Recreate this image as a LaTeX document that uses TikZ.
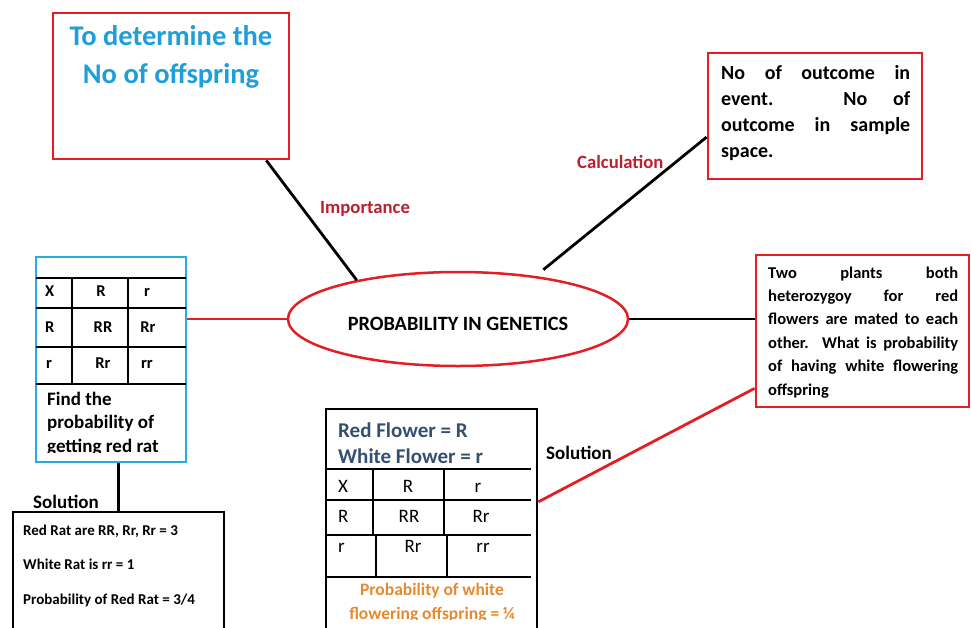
\documentclass[tikz,border=0pt]{standalone}
\usepackage{fontspec}
\setmainfont{Carlito}
\usetikzlibrary{shapes.geometric}

\definecolor{boxred}{HTML}{E31E24}
\definecolor{labelred}{HTML}{BE1E2D}
\definecolor{skyblue}{HTML}{29ABE2}
\definecolor{headblue}{HTML}{1E9FDB}
\definecolor{slate}{HTML}{35506E}
\definecolor{orangetxt}{HTML}{E68A2E}

% font size / baseline skip in one go
\newcommand\fs[2]{\fontsize{#1}{#2}\selectfont}
% a justified line of a given width
\newcommand\jline[2]{\hbox{\makebox[#1][s]{#2}}}

\tikzset{
  frame/.style={draw, rectangle, line width=2.8pt, inner sep=0pt},
  redframe/.style={frame, draw=boxred},
  blueframe/.style={frame, draw=skyblue},
  blackframe/.style={frame, draw=black},
  conn/.style={draw=black, line width=2.8pt},
  redconn/.style={draw=boxred, line width=2.8pt},
  txt/.style={inner sep=0pt, anchor=base west},
  ctxt/.style={inner sep=0pt, anchor=base},
  label/.style={txt, text=labelred, font=\fs{18.7}{22}\bfseries},
  cell/.style={font=\fs{16.5}{20}\bfseries},
  mcell/.style={font=\fs{19}{23}\mdseries},
  thin grid/.style={line width=1.2pt},
  thick grid/.style={line width=2.2pt},
}

\begin{document}
\begin{tikzpicture}[x=1pt,y=-1pt]
\useasboundingbox (0,0) rectangle (971,627);
\fill[white] (0,0) rectangle (971,627);
\clip (0,0) rectangle (971,627);

% ---- frames ----
\node[redframe, minimum width=236pt, minimum height=146pt] (tl) at (171,86) {};
\node[redframe, minimum width=214pt, minimum height=126pt] (tr) at (815,116) {};
\node[redframe, minimum width=213pt, minimum height=152pt] (rb) at (862.5,331) {};
\node[blueframe, minimum width=150pt, minimum height=205pt] (lb) at (111,359.5) {};
\node[blackframe, minimum width=211pt, minimum height=148pt] (sol) at (118.5,586) {};
\node[blackframe, minimum width=211pt, minimum height=251pt] (mid) at (431.5,534.5) {};

% ---- central topic ----
\node[ellipse, draw=boxred, line width=2.5pt, minimum width=340pt, minimum height=94pt,
      inner sep=0pt, text height=22pt, text depth=0pt, font=\fs{20.3}{24}\bfseries]
      (pg) at (458,319) {PROBABILITY IN GENETICS};

% ---- connectors ----
\draw[conn] (tl.-38) -- (pg.159);
\draw[conn, shorten >=10pt] (tr.191) -- (pg.29);
\draw[conn] (pg.east) -- (pg.east -| rb.west);
\draw[redconn] (pg.west) -- (pg.west -| lb.east);
\draw[redconn] (rb.208) -- (mid.17);
\draw[conn] (sol.north) -- (sol.north |- lb.south);

% ---- connector labels ----
\node[label] (imp) at (320,213) {Importance};
\node[label] (calc) at (577,168) {Calculation};
\node[txt, font=\fs{19}{23}\bfseries] (solA) at (33,508) {Solution};
\node[txt, font=\fs{19}{23}\bfseries] (solB) at (546,459) {Solution};

% ---- top left box ----
\node[ctxt, text=headblue, font=\fs{28.5}{34}\bfseries] (tlA) at (171,45) {To determine the};
\node[ctxt, text=headblue, font=\fs{28.5}{34}\bfseries] (tlB) at (171,83) {No of offspring};

% ---- top right box ----
\node[txt, font=\fs{20}{26.3}\bfseries] (trT) at (721,79)
  {\vtop{\jline{189pt}{No of outcome in}\jline{189pt}{event. No of}%
         \jline{189pt}{outcome in sample}\hbox{space.}}};

% ---- right box ----
\node[txt, font=\fs{16.5}{23.4}\bfseries] (rbT) at (768,278)
  {\vtop{\jline{190pt}{Two plants both}\jline{190pt}{heterozygoy for red}%
         \jline{190pt}{flowers are mated to each}\jline{190pt}{other. What is probability}%
         \jline{190pt}{of having white flowering}\hbox{offspring}}};

% ---- left Punnett square ----
\draw[thin grid] (36,278) -- (186,278) (36,308) -- (186,308)
                 (36,347) -- (186,347) (36,384) -- (186,384)
                 (72,278) -- (72,384) (128,278) -- (128,384);
\node[txt, cell] (l11) at (45,296) {X};
\node[ctxt, cell] (l12) at (101,296) {R};
\node[ctxt, cell] (l13) at (147,296) {r};
\node[txt, cell] (l21) at (45,332) {R};
\node[ctxt, cell] (l22) at (103,332) {RR};
\node[ctxt, cell] (l23) at (148,332) {Rr};
\node[txt, cell] (l31) at (46,368) {r};
\node[ctxt, cell] (l32) at (103,368) {Rr};
\node[ctxt, cell] (l33) at (147,368) {rr};
\begin{scope}
  \clip (36,257) rectangle (186,452);
  \node[txt, font=\fs{19}{23.5}\bfseries] (lbT) at (47,405)
    {\vtop{\hbox{Find the}\hbox{probability of}\hbox{getting red rat}}};
\end{scope}

% ---- solution box (rats) ----
\node[txt, font=\fs{15}{18}\bfseries] (s1) at (23,535) {Red Rat are RR, Rr, Rr = 3};
\node[txt, font=\fs{15}{18}\bfseries] (s2) at (23,569) {White Rat is rr = 1};
\node[txt, font=\fs{15}{18}\bfseries] (s3) at (23,604) {Probability of Red Rat = 3/4};

% ---- middle box (flowers) ----
\node[txt, text=slate, font=\fs{21}{26}\bfseries] (m0a) at (338,437) {Red Flower = R};
\node[txt, text=slate, font=\fs{21}{26}\bfseries] (m0b) at (338,463) {White Flower = r};
\draw[thick grid] (326,469) -- (531,469) (326,500) -- (531,500)
                  (326,535) -- (531,535) (326,577) -- (531,577)
                  (373,469) -- (373,535) (444,469) -- (444,535)
                  (376,535) -- (376,577) (447,535) -- (447,577);
\node[txt, mcell] (m11) at (338,492) {X};
\node[ctxt, mcell] (m12) at (408,492) {R};
\node[ctxt, mcell] (m13) at (478,492) {r};
\node[txt, mcell] (m21) at (338,522) {R};
\node[ctxt, mcell] (m22) at (409,522) {RR};
\node[ctxt, mcell] (m23) at (481,522) {Rr};
\node[txt, mcell] (m31) at (338,552) {r};
\node[ctxt, mcell] (m32) at (413,552) {Rr};
\node[ctxt, mcell] (m33) at (483,552) {rr};
\begin{scope}
  \clip (326,577) rectangle (537,619);
  \node[ctxt, text=orangetxt, font=\fs{17.5}{22}\bfseries] (mp1) at (432,595) {Probability of white};
  \node[ctxt, text=orangetxt, font=\fs{17.5}{22}\bfseries] (mp2) at (432,619.5) {flowering offspring = ¼};
\end{scope}
\end{tikzpicture}
\end{document}
